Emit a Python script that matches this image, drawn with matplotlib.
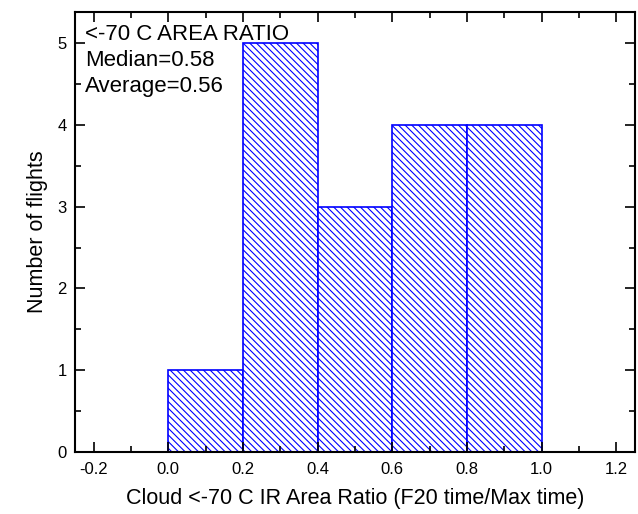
import matplotlib
matplotlib.use("Agg")
import matplotlib.pyplot as plt
from matplotlib.ticker import MultipleLocator

plt.rcParams['font.family'] = ['Liberation Sans', 'DejaVu Sans']
plt.rcParams['hatch.color'] = '#0000ff'
plt.rcParams['hatch.linewidth'] = 0.8

bin_edges = [0.0, 0.2, 0.4, 0.6, 0.8, 1.0]
counts = [1, 5, 3, 4, 4]
xlabel = "Cloud <-70 C IR Area Ratio (F20 time/Max time)"
ylabel = "Number of flights"
notes = ["<-70 C AREA RATIO", "Median=0.58", "Average=0.56"]

fig = plt.figure(figsize=(6.38, 5.14), dpi=100)
ax = fig.add_axes([75/638, 62/514, 560/638, 440/514])

lefts = bin_edges[:-1]
widths = [b - a for a, b in zip(bin_edges[:-1], bin_edges[1:])]
ax.bar(lefts, counts, width=widths, align='edge', facecolor='white',
       edgecolor='#0000ff', linewidth=1.2, hatch='\\\\\\\\\\')

ax.set_xlim(-0.25, 1.25)
ax.set_ylim(0, 5.38)
ax.xaxis.set_major_locator(MultipleLocator(0.2))
ax.xaxis.set_minor_locator(MultipleLocator(0.1))
ax.yaxis.set_major_locator(MultipleLocator(1))
ax.yaxis.set_minor_locator(MultipleLocator(0.5))
ax.set_xticks([-0.2, 0.0, 0.2, 0.4, 0.6, 0.8, 1.0, 1.2])
ax.set_xticklabels(['-0.2', '0.0', '0.2', '0.4', '0.6', '0.8', '1.0', '1.2'])
ax.tick_params(which='both', direction='in', top=True, right=True, width=1.2, labelsize=12)
ax.tick_params(which='major', length=7)
ax.tick_params(which='minor', length=4)
ax.tick_params(axis='x', pad=7)
ax.tick_params(axis='y', pad=6)
for s in ax.spines.values():
    s.set_linewidth(1.5)

ax.set_xlabel(xlabel, fontsize=15.5, labelpad=8)
ax.set_ylabel(ylabel, fontsize=15.5, labelpad=7)

for i, t in enumerate(notes):
    ax.text(0.018, 0.973 - i * 0.059, t, transform=ax.transAxes,
            fontsize=16, va='top', ha='left')

fig.savefig("out.png", dpi=100)
